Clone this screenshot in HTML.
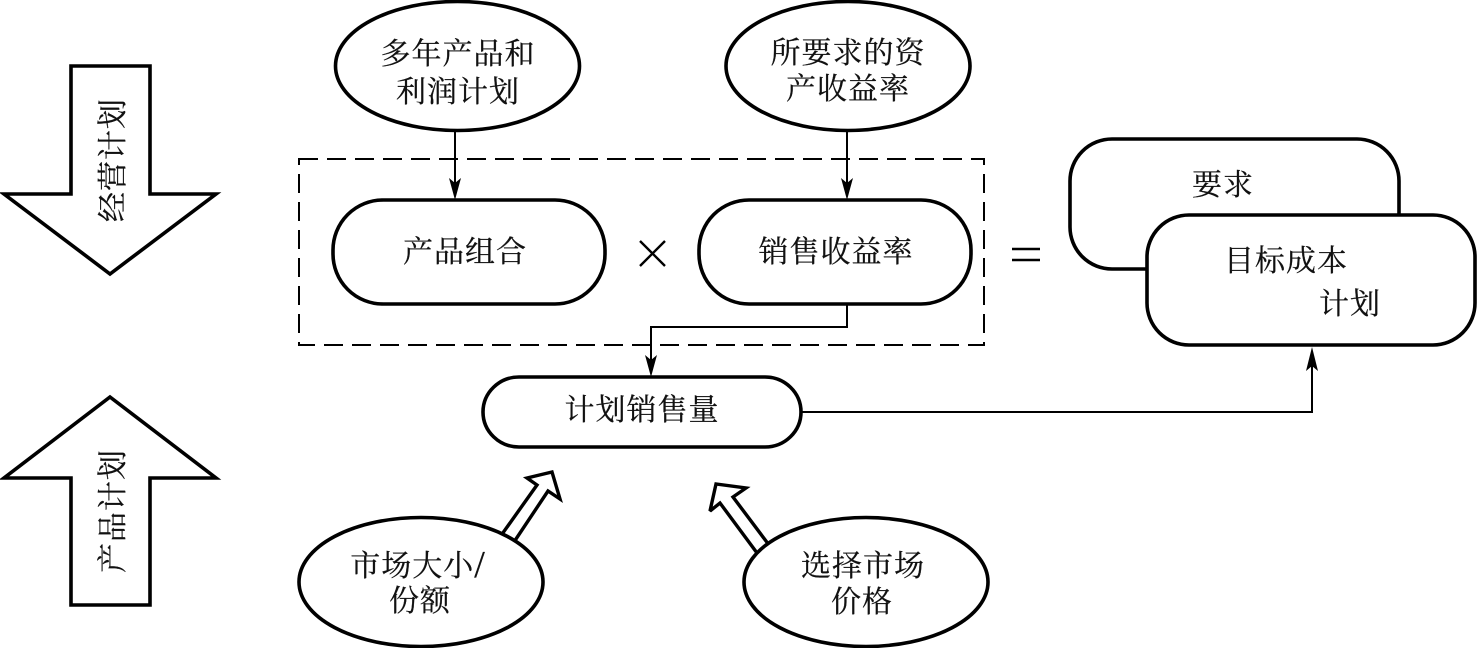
<!DOCTYPE html>
<html lang="zh">
<head>
<meta charset="utf-8">
<title>目标成本计划</title>
<style>
html,body{margin:0;padding:0;background:#fff;width:1478px;height:648px;overflow:hidden}
svg{display:block}
text{font-family:"Liberation Serif","Noto Serif CJK SC",serif;font-size:30px;fill:#111;stroke:#111;stroke-width:.25;letter-spacing:1px;text-anchor:middle}
.s{fill:#fff;stroke:#000;stroke-width:3.6;stroke-linejoin:miter}
.h{fill:#fff;stroke:#000;stroke-width:3.4;stroke-linejoin:miter;stroke-miterlimit:3}
.t{fill:none;stroke:#000;stroke-width:2}
</style>
</head>
<body>
<svg width="1478" height="648" viewBox="0 0 1478 648" xmlns="http://www.w3.org/2000/svg">
<!-- block arrows -->
<polygon class="s" points="71,66 150,66 150,194 216,194 110,274 4,194 71,194"/>
<polygon class="s" points="110,397 216,478 150,478 150,605 71,605 71,478 4,478"/>
<text transform="translate(123,160) rotate(-90)">经营计划</text>
<text transform="translate(123,511) rotate(-90)">产品计划</text>

<!-- dashed frame -->
<rect x="299" y="159" width="685" height="186" fill="none" stroke="#000" stroke-width="2" stroke-dasharray="19 9"/>

<!-- connectors -->
<path class="t" d="M455,131V190M847,131V190M847,304V327H651V367M801,412H1312V357"/>
<polygon points="455,200 449,178 455,183 461,178" fill="#000"/>
<polygon points="847,200 841,178 847,183 853,178" fill="#000"/>
<polygon points="651,377 645,355 651,360 657,355" fill="#000"/>
<polygon points="1312,347 1306,371 1312,366 1318,371" fill="#000"/>

<!-- hollow arrows (drawn under the ellipses) -->
<polygon class="h" points="500,537 537,485 527,478 552,472 560,499 548,491 512,545"/>
<polygon class="h" points="760,557 720,503 710,511 716,484 746,488 733,497 772,549"/>

<!-- ellipses -->
<ellipse class="s" cx="457.5" cy="66" rx="122" ry="64.500"/>
<ellipse class="s" cx="848" cy="66" rx="122" ry="64.500"/>
<ellipse class="s" cx="421" cy="582" rx="122" ry="64.500"/>
<ellipse class="s" cx="866" cy="582" rx="122" ry="64.500"/>

<!-- rounded boxes -->
<rect class="s" x="333" y="200" width="272" height="104" rx="50" ry="50"/>
<rect class="s" x="699" y="200" width="272" height="104" rx="50" ry="50"/>
<rect class="s" x="483" y="377" width="318" height="70" rx="36" ry="35"/>
<rect class="s" x="1070" y="139" width="329" height="130" rx="42" ry="42"/>
<rect class="s" x="1147" y="215" width="328" height="130" rx="42" ry="42"/>

<!-- operators -->
<path d="M640,241L665,266M665,241L640,266" fill="none" stroke="#000" stroke-width="2.400"/>
<path d="M1012,249H1040M1012,260H1040" fill="none" stroke="#000" stroke-width="2.400"/>

<!-- labels -->
<text x="458" y="64">多年产品和</text>
<text x="458" y="102">利润计划</text>
<text x="848" y="63">所要求的资</text>
<text x="848" y="99">产收益率</text>
<text x="465" y="262">产品组合</text>
<text x="836" y="262">销售收益率</text>
<text x="642" y="420">计划销售量</text>
<text x="418" y="576">市场大小<tspan font-size="38" dy="1">/</tspan></text>
<text x="420" y="611">份额</text>
<text x="863" y="576">选择市场</text>
<text x="862" y="612">价格</text>
<text x="1223" y="195">要求</text>
<text x="1286" y="271">目标成本</text>
<text x="1350" y="314">计划</text>
</svg>
</body>
</html>
